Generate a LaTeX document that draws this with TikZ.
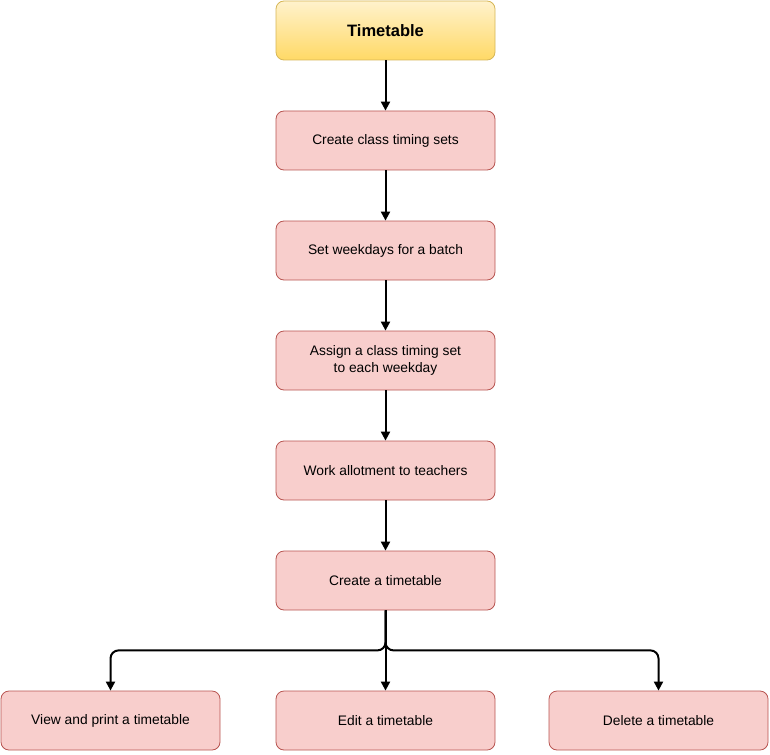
\documentclass[tikz,border=0pt]{standalone}
\usepackage{fontspec}
\setmainfont{Liberation Sans}
\usetikzlibrary{arrows.meta,positioning,calc}
\definecolor{yfill1}{HTML}{FFF2CC}
\definecolor{yfill2}{HTML}{FFD966}
\definecolor{ydraw}{HTML}{D6B656}
\definecolor{rfill}{HTML}{F8CECC}
\definecolor{rdraw}{HTML}{B85450}
\begin{document}
\begin{tikzpicture}[x=1pt,y=-1pt,
  box/.style={draw=rdraw,fill=rfill,rounded corners=8pt,minimum width=219pt,minimum height=59pt,
    align=center,font=\fontsize{13.8}{16.5}\selectfont,inner sep=0pt,line width=0.8pt},
  titlebox/.style={draw=ydraw,top color=yfill1,bottom color=yfill2,rounded corners=8pt,
    minimum width=219pt,minimum height=59pt,font=\fontsize{16.5}{19}\selectfont\bfseries,inner sep=0pt,line width=0.8pt},
  arr/.style={draw=black,line width=2pt,-{Triangle[width=9pt,length=9pt]}}]
\useasboundingbox (0,0) rectangle (770,754);
\node[titlebox] (t) at (385.5,30.5) {Timetable};
\node[box] (a) at (385.5,140.5) {Create class timing sets};
\node[box] (b) at (385.5,250.5) {Set weekdays for a batch};
\node[box] (c) at (385.5,360.5) {Assign a class timing set\\to each weekday};
\node[box] (d) at (385.5,470.5) {Work allotment to teachers};
\node[box] (e) at (385.5,580.5) {Create a timetable};
\node[box] (l) at (110.5,720.5) {View and print a timetable};
\node[box] (m) at (385.5,720.5) {Edit a timetable};
\node[box] (r) at (658.5,720.5) {Delete a timetable};
\draw[arr] (t) -- (a);
\draw[arr] (a) -- (b);
\draw[arr] (b) -- (c);
\draw[arr] (c) -- (d);
\draw[arr] (d) -- (e);
\draw[arr] (e) -- (m);
\draw[arr,rounded corners=8pt] (e.south) -- ++(0,40) -| (l.north);
\draw[arr,rounded corners=8pt] (e.south) -- ++(0,40) -| (r.north);
\end{tikzpicture}
\end{document}
